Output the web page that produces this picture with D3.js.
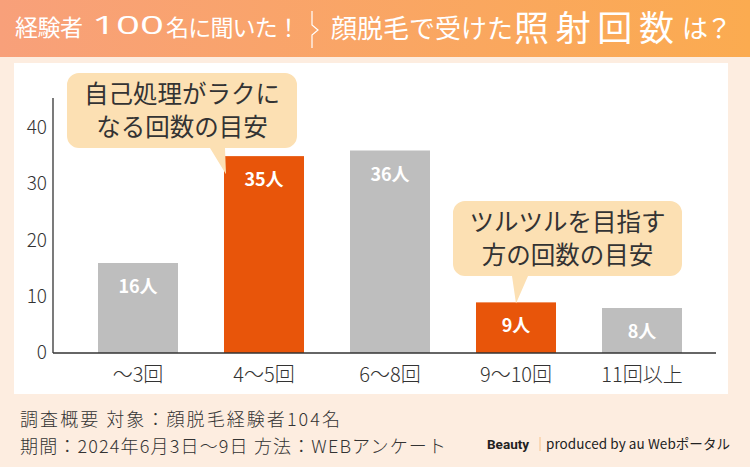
<!DOCTYPE html>
<html><head><meta charset="utf-8">
<script src="https://cdn.jsdelivr.net/npm/d3@7"></script>
<style>
html,body{margin:0;padding:0;background:#FDEDE0;}
svg{display:block;font-family:"Noto Sans CJK JP","Noto Sans",sans-serif;}
</style></head><body>
<svg id="c" width="750" height="467"></svg>
<script>
const categories = ["～3回", "4～5回", "6～8回", "9～10回", "11回以上"];
const values = [16, 35, 36, 9, 8];
const highlight = [false, true, false, true, false];
const yTicks = [0, 10, 20, 30, 40];
const valueSuffix = "人";
const bubble1Lines = ["自己処理がラクに", "なる回数の目安"];
const bubble2Lines = ["ツルツルを目指す", "方の回数の目安"];
const footerLines = ["調査概要 対象：顔脱毛経験者104名", "期間：2024年6月3日～9日 方法：WEBアンケート"];
const titleParts = [
  {t: "経験者", x: 15, w: 68, s: 23, y: 36, f: null, adj: "spacing", wt: 400},
  {t: "100", x: 92, w: 72, s: 25, y: 34, f: "'Open Sans', sans-serif", adj: "spacingAndGlyphs", wt: 400},
  {t: "名に聞いた！", x: 166, w: 134, s: 23, y: 36, f: null, adj: "spacing", wt: 400},
  {t: "顔脱毛で受けた", x: 331, w: 182, s: 26, y: 38, f: null, adj: "spacing", wt: 400},
  {t: "照射回数", x: 514, w: 160, s: 35, y: 41, f: null, adj: "spacing", wt: 400},
  {t: "は？", x: 682, w: 50, s: 26, y: 38, f: null, adj: "spacing", wt: 400}
];

const svg = d3.select("#c");
const W = 750, H = 467;

// background
svg.append("rect").attr("width", W).attr("height", H).attr("fill", "#FDEDE0");
const defs = svg.append("defs");
const grad = defs.append("linearGradient").attr("id", "hg").attr("x1", "0").attr("x2", "1").attr("y1", "0").attr("y2", "0");
grad.append("stop").attr("offset", "0").attr("stop-color", "#F8A07A");
grad.append("stop").attr("offset", "1").attr("stop-color", "#FBAB50");
svg.append("rect").attr("width", W).attr("height", 57).attr("fill", "url(#hg)");

// title
svg.selectAll("text.title").data(titleParts).join("text")
  .attr("class", "title")
  .attr("x", d => d.x).attr("y", d => d.y)
  .attr("fill", "#fff").attr("font-size", d => d.s).attr("font-weight", d => d.wt)
  .attr("font-family", d => d.f)
  .attr("textLength", d => d.w).attr("lengthAdjust", d => d.adj)
  .text(d => d.t);
svg.append("path").attr("d", "M312,11 L312,25 L318,30 L312,35 L312,48")
  .attr("fill", "none").attr("stroke", "#fff").attr("stroke-width", 1.2);

// white panel
svg.append("rect").attr("x", 14).attr("y", 63).attr("width", 714).attr("height", 331).attr("fill", "#fff");

// scales
const x = d3.scaleBand().domain(categories).range([75, 705]).paddingInner(0.365).paddingOuter(0.1825);
const y = d3.scaleLinear().domain([0, 40]).range([353, 128]);

// bars
const g = svg.append("g");
g.selectAll("rect.bar").data(values).join("rect")
  .attr("class", "bar")
  .attr("x", (d, i) => x(categories[i]))
  .attr("y", d => y(d))
  .attr("width", x.bandwidth())
  .attr("height", d => y(0) - y(d))
  .attr("fill", (d, i) => highlight[i] ? "#E8550A" : "#BEBEBE");

g.selectAll("text.val").data(values).join("text")
  .attr("class", "val")
  .attr("x", (d, i) => x(categories[i]) + x.bandwidth() / 2)
  .attr("y", d => y(d) + 30)
  .attr("text-anchor", "middle")
  .attr("fill", "#fff").attr("font-size", 18).attr("font-weight", 700)
  .text(d => d + valueSuffix);

// axes
svg.append("line").attr("x1", 53).attr("x2", 53).attr("y1", 98).attr("y2", 353).attr("stroke", "#333").attr("stroke-width", 1.3);
svg.append("line").attr("x1", 53).attr("x2", 716).attr("y1", 353).attr("y2", 353).attr("stroke", "#333").attr("stroke-width", 1.3);

svg.selectAll("text.yt").data(yTicks).join("text")
  .attr("class", "yt")
  .attr("x", 47).attr("y", d => y(d) + 6)
  .attr("text-anchor", "end").attr("fill", "#333").attr("font-size", 19)
  .attr("font-weight", 300)
  .text(d => d);

svg.selectAll("text.xt").data(categories).join("text")
  .attr("class", "xt")
  .attr("x", d => x(d) + x.bandwidth() / 2)
  .attr("y", 382)
  .attr("text-anchor", "middle").attr("fill", "#333").attr("font-size", 20)
  .attr("font-weight", 300)
  .text(d => d);

// bubbles
function bubble(bx, by, bw, bh, tail, lines, lh) {
  const r = 12;
  const p = d3.path();
  p.moveTo(bx + r, by);
  p.lineTo(bx + bw - r, by);
  p.arcTo(bx + bw, by, bx + bw, by + r, r);
  p.lineTo(bx + bw, by + bh - r);
  p.arcTo(bx + bw, by + bh, bx + bw - r, by + bh, r);
  p.lineTo(tail[1], by + bh);
  p.lineTo(tail[2], tail[3]);
  p.lineTo(tail[0], by + bh);
  p.lineTo(bx + r, by + bh);
  p.arcTo(bx, by + bh, bx, by + bh - r, r);
  p.lineTo(bx, by + r);
  p.arcTo(bx, by, bx + r, by, r);
  p.closePath();
  svg.append("path").attr("d", p.toString()).attr("fill", "#FCE0B3");
  svg.append("text").attr("text-anchor", "middle").attr("fill", "#333").attr("font-size", 24.5)
    .selectAll("tspan").data(lines).join("tspan")
    .attr("x", bx + bw / 2)
    .attr("y", (d, i) => by + bh / 2 + (i - (lines.length - 1) / 2) * lh + 8.5)
    .text(d => d);
}
const b1i = 1, b2i = 3;
const c1 = x(categories[b1i]), c2 = x(categories[b2i]) + x.bandwidth() / 2;
bubble(67, 73, 230, 75, [c1 - 14, c1 + 1, c1 + 2, y(values[b1i]) + 18], bubble1Lines, 33);
bubble(453, 201, 229, 75, [c2 - 4, c2 + 12, c2 - 0, y(values[b2i]) + 1], bubble2Lines, 33);

// footer
const footerW = [320, 426];
svg.selectAll("text.ft").data(footerLines).join("text")
  .attr("class", "ft")
  .attr("x", 20).attr("y", (d, i) => 426 + i * 27)
  .attr("fill", "#333").attr("font-size", 18).attr("font-weight", 300)
  .attr("textLength", (d, i) => footerW[i]).attr("lengthAdjust", "spacing")
  .text(d => d);

svg.append("text").attr("x", 487).attr("y", 449).attr("fill", "#222").attr("font-size", 13.5).attr("font-weight", 700)
  .attr("font-family", "Roboto, 'Noto Sans', sans-serif").text("Beauty");
svg.append("line").attr("x1", 540).attr("x2", 540).attr("y1", 437).attr("y2", 451).attr("stroke", "#F7C28A").attr("stroke-width", 1);
svg.append("text").attr("x", 546).attr("y", 449).attr("fill", "#222").attr("font-size", 13.5)
  .attr("textLength", 184).attr("lengthAdjust", "spacing")
  .text("produced by au Webポータル");
</script>
</body></html>
